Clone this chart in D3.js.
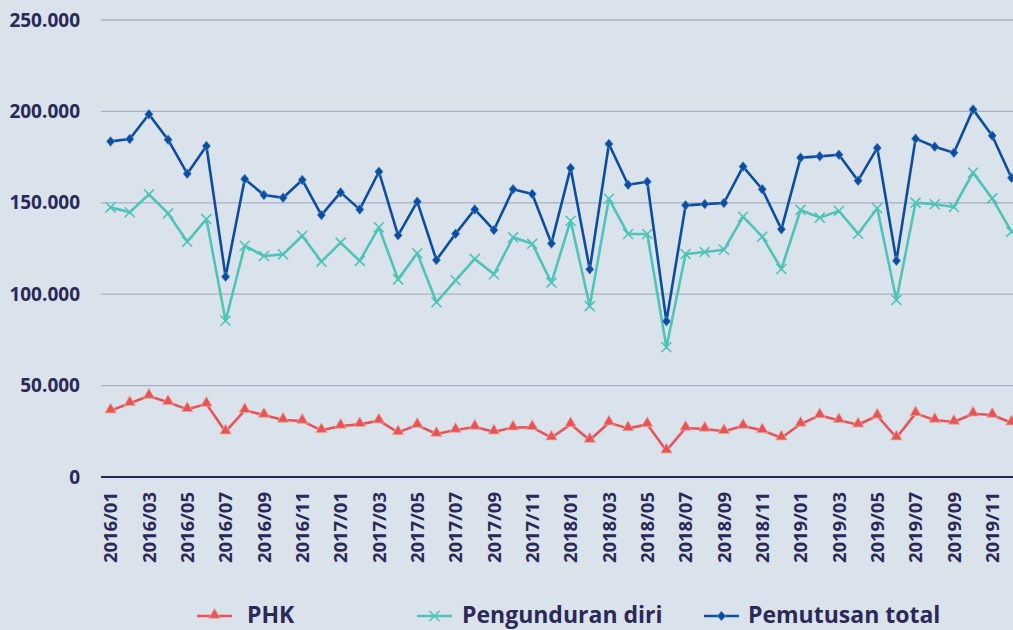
<!DOCTYPE html>
<html>
<head>
<meta charset="utf-8">
<script src="https://cdn.jsdelivr.net/npm/d3@7"></script>
<style>
  body { margin: 0; background: #dae3ec; }
  svg { display: block; font-family: "Open Sans", sans-serif; }
</style>
</head>
<body>
<svg id="chart" width="1013" height="630"></svg>
<script>
// months 2016/01 .. 2019/12
var months = [];
[2016, 2017, 2018, 2019].forEach(function (y) {
    for (var m = 1; m <= 12; m++) months.push(y + "/" + (m < 10 ? "0" + m : m));
});

var phk = [36300, 40300, 44300, 40900, 37000, 39900, 24800, 36500, 33900, 31200, 30600, 25500,
           27900, 28800, 30800, 24400, 28400, 23500, 25700, 27400, 24800, 27000, 27200, 21500,
           28800, 20200, 29700, 26600, 28800, 14400, 26800, 26300, 25000, 27900, 25500, 21500,
           29000, 33700, 31000, 28600, 33500, 21500, 34800, 31200, 30100, 34600, 33900, 29700];

var pengunduran = [147500, 144800, 154600, 144200, 128700, 141100, 85500, 126500, 120900, 121800, 132000, 117800,
                   128200, 118200, 136600, 108100, 122400, 95600, 107600, 119300, 110900, 131100, 127600, 106300,
                   140200, 93500, 152200, 132900, 132900, 71000, 122000, 123100, 124300, 142400, 131500, 113800,
                   146100, 141900, 145500, 133100, 147000, 96800, 150100, 149200, 147700, 166500, 152400, 134200];

var pemutusan = [183600, 184900, 198400, 184500, 165900, 181100, 109600, 163000, 154300, 152800, 162500, 143300,
                 155700, 146400, 167000, 132200, 150600, 118700, 133100, 146400, 135100, 157400, 154800, 127800,
                 169000, 113600, 182200, 159900, 161500, 85200, 148600, 149300, 149900, 169800, 157400, 135500,
                 174700, 175400, 176300, 162100, 180000, 118300, 185100, 180700, 177400, 201100, 186700, 163700];

var yTicks = [0, 50000, 100000, 150000, 200000, 250000];

var seriesNames = ["PHK", "Pengunduran diri", "Pemutusan total"];
var seriesColors = ["#e8535b", "#4fc3b8", "#0c4da2"];
var seriesData = [phk, pengunduran, pemutusan];

var textColor = "#2a295a";

var svg = d3.select("#chart");

var x = d3.scaleBand()
    .domain(months)
    .range([101, 1021])
    .padding(0);

var y = d3.scaleLinear()
    .domain([0, 250000])
    .range([477, 20]);

var idFmt = d3.formatLocale({decimal: ",", thousands: ".", grouping: [3], currency: ["", ""]}).format(",d");

// gridlines
svg.append("g").selectAll("line")
    .data(yTicks.slice(1))
    .enter().append("line")
    .attr("x1", 101)
    .attr("x2", 1013)
    .attr("y1", function (d) { return y(d); })
    .attr("y2", function (d) { return y(d); })
    .attr("stroke", "#a9b0c2")
    .attr("stroke-width", 1.3);

// y labels
svg.append("g").selectAll("text")
    .data(yTicks)
    .enter().append("text")
    .attr("x", 80)
    .attr("y", function (d) { return y(d); })
    .attr("dy", "0.35em")
    .attr("text-anchor", "end")
    .attr("fill", textColor)
    .style("font-size", "19px")
    .style("font-weight", 700)
    .text(function (d) { return idFmt(d); });

// x labels, every other month
svg.append("g").selectAll("text")
    .data(months.filter(function (d, i) { return i % 2 === 0; }))
    .enter().append("text")
    .attr("transform", function (d) {
        return "translate(" + (x(d) + x.bandwidth() / 2) + ",492) rotate(-90)";
    })
    .attr("dy", "0.36em")
    .attr("text-anchor", "end")
    .attr("fill", textColor)
    .style("font-size", "18.5px")
    .style("font-weight", 700)
    .text(function (d) { return d; });

// zero axis line
svg.append("line")
    .attr("x1", 101)
    .attr("x2", 1013)
    .attr("y1", y(0))
    .attr("y2", y(0))
    .attr("stroke", "#2a295a")
    .attr("stroke-width", 2.2);

var cx = function (d, i) { return x(months[i]) + x.bandwidth() / 2; };

var line = d3.line()
    .x(function (d, i) { return cx(d, i); })
    .y(function (d) { return y(d); });

function drawMarker(g, k, color) {
    if (k === 0) {
        g.append("path")
            .attr("d", d3.symbol().type(d3.symbolTriangle).size(55)())
            .attr("transform", "translate(0,-1)")
            .attr("fill", color)
            .attr("stroke", "#eba88c")
            .attr("stroke-width", 0.8);
    } else if (k === 1) {
        g.append("path")
            .attr("d", "M-5,-5L5,5M-5,5L5,-5")
            .attr("fill", "none")
            .attr("stroke", color)
            .attr("stroke-width", 1.6);
    } else {
        g.append("path")
            .attr("d", "M0,-5L4.2,0L0,5L-4.2,0Z")
            .attr("fill", color)
            .attr("stroke", "#6f9fd6")
            .attr("stroke-width", 0.6);
    }
}

// series
seriesData.forEach(function (vals, k) {
    var g = svg.append("g");
    g.append("path")
        .datum(vals)
        .attr("d", line)
        .attr("fill", "none")
        .attr("stroke", seriesColors[k])
        .attr("stroke-width", 2.6)
        .attr("stroke-linejoin", "round");

    g.selectAll("g.mk")
        .data(vals)
        .enter().append("g")
        .attr("class", "mk")
        .attr("transform", function (d, i) { return "translate(" + cx(d, i) + "," + y(d) + ")"; })
        .each(function () { drawMarker(d3.select(this), k, seriesColors[k]); });
});

// legend
var legX = [197, 417, 704];
var legTextX = [247, 462, 748];
var legend = svg.append("g");
seriesNames.forEach(function (name, k) {
    legend.append("line")
        .attr("x1", legX[k])
        .attr("x2", legX[k] + 35)
        .attr("y1", 616)
        .attr("y2", 616)
        .attr("stroke", seriesColors[k])
        .attr("stroke-width", 2.6);
    var mg = legend.append("g")
        .attr("transform", "translate(" + (legX[k] + 17.5) + ",616)");
    drawMarker(mg, k, seriesColors[k]);
    legend.append("text")
        .attr("x", legTextX[k])
        .attr("y", 615)
        .attr("dy", "0.35em")
        .attr("fill", textColor)
        .style("font-size", "23px")
        .style("font-weight", 700)
        .text(name);
});
</script>
</body>
</html>
